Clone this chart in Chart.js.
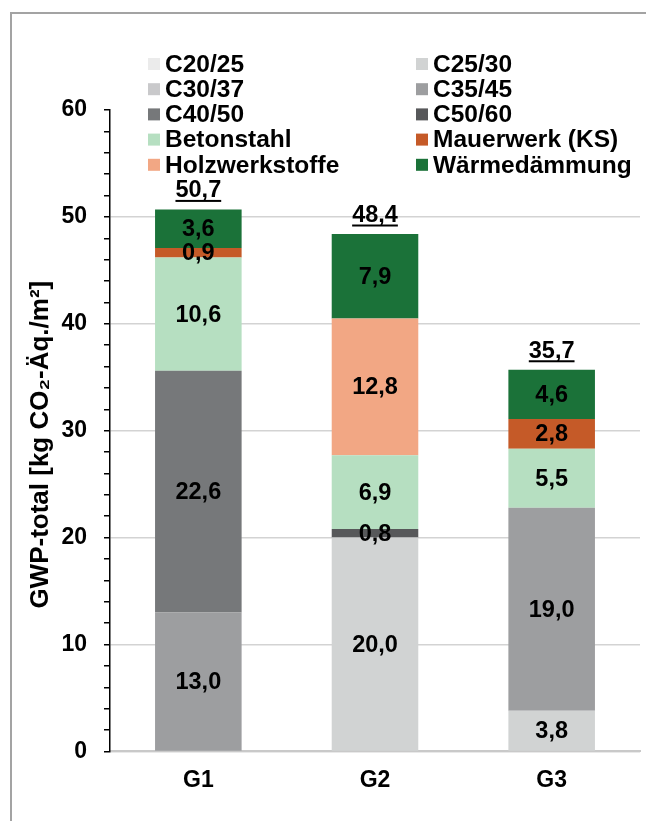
<!DOCTYPE html>
<html>
<head>
<meta charset="utf-8">
<script src="https://cdn.jsdelivr.net/npm/chart.js@4.4.0/dist/chart.umd.min.js"></script>
<style>
  html, body { margin: 0; padding: 0; background: #fff; }
  #wrap { position: relative; width: 646px; height: 821px; overflow: hidden; }
  #frame { position: absolute; left: 10px; top: 12px; width: 700px; height: 900px;
           border-left: 2px solid #a3a3a3; border-top: 2px solid #a3a3a3; }
  canvas { position: absolute; left: 0; top: 0; }
</style>
</head>
<body>
<div id="wrap">
  <div id="frame"></div>
  <canvas id="chart" width="646" height="821"></canvas>
</div>
<script>
// categories and series (kg CO2-Äq./m²)
var categories = ["G1", "G2", "G3"];
var seriesLabels = ["C20/25", "C25/30", "C30/37", "C35/45", "C40/50", "C50/60",
                    "Betonstahl", "Mauerwerk (KS)", "Holzwerkstoffe", "Wärmedämmung"];
var c2025 = [0, 0, 0];
var c2530 = [0, 20.0, 3.8];
var c3037 = [0, 0, 0];
var c3545 = [13.0, 0, 19.0];
var c4050 = [22.6, 0, 0];
var c5060 = [0, 0.8, 0];
var betonstahl = [10.6, 6.9, 5.5];
var mauerwerk = [0.9, 0, 2.8];
var holz = [0, 12.8, 0];
var daemmung = [3.6, 7.9, 4.6];
var yTicks = [0, 10, 20, 30, 40, 50, 60];
var yTitle = "GWP-total [kg CO₂-Äq./m²]";

var colors = ["#ebebeb", "#d1d3d3", "#c9c9cb", "#9d9ea0", "#76787a", "#57585a",
              "#b6dfc1", "#c55a28", "#f2a784", "#1b7239"];
var seriesValues = [c2025, c2530, c3037, c3545, c4050, c5060, betonstahl, mauerwerk, holz, daemmung];

var FONT = '"Liberation Sans", Arial, sans-serif';
Chart.defaults.font.family = FONT;
Chart.defaults.color = "#000";

function fmt(v) { return v.toFixed(1).replace(".", ","); }

var datasets = seriesValues.map(function(vals, i) {
    return {
        label: seriesLabels[i],
        data: vals,
        backgroundColor: colors[i],
        borderWidth: 0,
        categoryPercentage: 1.0,
        barPercentage: 0.49
    };
});

var valueLabels = {
    id: "valueLabels",
    afterDatasetsDraw: function(chart) {
        var ctx = chart.ctx;
        ctx.save();
        ctx.fillStyle = "#000";
        ctx.font = "bold 23.5px " + FONT;
        ctx.textAlign = "center";
        ctx.textBaseline = "middle";
        chart.data.datasets.forEach(function(ds, di) {
            var meta = chart.getDatasetMeta(di);
            meta.data.forEach(function(bar, i) {
                var v = ds.data[i];
                if (!v) return;
                ctx.fillText(fmt(v), bar.x, (bar.y + bar.base) / 2 + 1);
            });
        });
        // totals, underlined
        var yScale = chart.scales.y;
        var xScale = chart.scales.x;
        categories.forEach(function(c, i) {
            var total = 0;
            chart.data.datasets.forEach(function(ds) { total += ds.data[i]; });
            var x = xScale.getPixelForValue(i);
            var top = yScale.getPixelForValue(total);
            var txt = fmt(total);
            ctx.textBaseline = "alphabetic";
            ctx.fillText(txt, x, top - 12);
            var w = ctx.measureText(txt).width;
            ctx.fillRect(x - w / 2, top - 9.5, w, 2);
        });
        ctx.restore();
    }
};

var legendBox = {
    id: "legendBox",
    afterDraw: function(chart) {
        var ctx = chart.ctx;
        var colX = [148, 416];
        ctx.save();
        ctx.font = "bold 24.5px " + FONT;
        ctx.textBaseline = "middle";
        ctx.textAlign = "left";
        chart.data.datasets.forEach(function(ds, i) {
            var col = i % 2, row = Math.floor(i / 2);
            var x = colX[col], y = 64 + row * 25.2;
            ctx.fillStyle = ds.backgroundColor;
            ctx.fillRect(x, y - 6, 12, 12);
            ctx.fillStyle = "#000";
            ctx.fillText(ds.label, x + 17, y + 1);
        });
        // y axis title
        var yScale = chart.scales.y;
        ctx.translate(41, (yScale.top + yScale.bottom) / 2 + 14);
        ctx.rotate(-Math.PI / 2);
        ctx.font = "bold 26px " + FONT;
        ctx.textAlign = "center";
        ctx.fillText(yTitle, 0, 0);
        ctx.restore();
    }
};

new Chart(document.getElementById("chart"), {
    type: "bar",
    data: { labels: categories, datasets: datasets },
    plugins: [valueLabels, legendBox],
    options: {
        responsive: false,
        animation: false,
        layout: { padding: { top: 110, left: 0, right: 6, bottom: 12 } },
        plugins: { legend: { display: false }, tooltip: { enabled: false } },
        scales: {
            x: {
                stacked: true,
                grid: { display: false, drawTicks: false },
                border: { display: true, color: "#c9c9c9", width: 2 },
                ticks: { font: { size: 23, weight: "bold" }, padding: 15, color: "#000" }
            },
            y: {
                stacked: true,
                min: 0,
                max: 60,
                afterFit: function(scale) { scale.width = 110; },
                afterBuildTicks: function(scale) {
                    var t = [];
                    for (var v = 0; v <= 60; v += 2) t.push({ value: v });
                    scale.ticks = t;
                },
                ticks: {
                    autoSkip: false,
                    font: { size: 23, weight: "bold" },
                    padding: 17,
                    color: "#000",
                    callback: function(v) { return yTicks.indexOf(v) >= 0 ? String(v) : ""; }
                },
                grid: {
                    color: function(c) {
                        var v = c.tick && c.tick.value;
                        return (v % 10 === 0 && v < 60) ? "#d3d3d3" : "rgba(0,0,0,0)";
                    },
                    lineWidth: 1.5,
                    tickColor: "#000",
                    tickLength: 6,
                    tickWidth: 1.5
                },
                border: { color: "#000", width: 1.5 },
                title: { display: false }
            }
        }
    }
});
</script>
</body>
</html>
